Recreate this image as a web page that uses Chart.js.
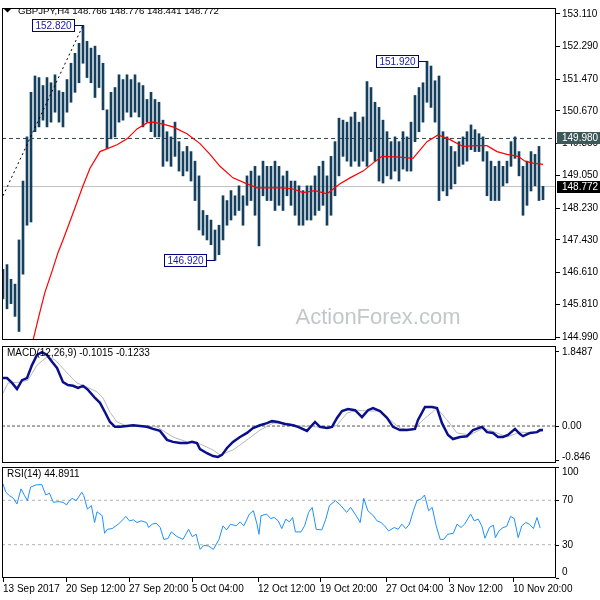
<!DOCTYPE html>
<html lang="en">
<head>
<meta charset="UTF-8">
<title>GBPJPY H4</title>
<script src="https://cdn.jsdelivr.net/npm/chart.js"></script>
<style>
  body { margin: 0; background: #fff; }
  .wrap { position: relative; width: 600px; height: 600px; overflow: hidden; background: #fff; }
  .wrap canvas { position: absolute; left: 0; }
</style>
</head>
<body>
<div class="wrap">
  <canvas id="priceChart" width="600" height="348" style="top:0"></canvas>
  <canvas id="macdChart" width="600" height="128" style="top:340px"></canvas>
  <canvas id="rsiChart" width="600" height="142" style="top:458px"></canvas>
</div>
<script>
// ---- data (bar index 0..135) ----
const barHigh = [146.69,146.81,146.44,146.32,147.43,148.91,150.02,151.14,151.55,151.51,
  151.31,151.51,151.38,151.58,151.18,151.14,151.46,151.87,152.12,152.37,
  152.82,152.42,152.25,152.30,152.07,151.87,150.70,151.14,151.26,151.58,
  151.46,151.58,151.46,151.58,151.38,151.31,150.96,151.14,150.96,150.89,
  150.44,150.15,150.02,150.39,149.90,149.65,149.78,149.65,149.41,149.04,
  148.17,148.05,147.93,147.68,147.80,148.54,148.42,148.67,148.54,148.79,
  148.54,149.04,149.16,149.28,149.04,149.41,149.28,149.28,149.41,149.28,
  149.04,149.16,148.91,148.91,148.79,148.67,148.79,148.79,149.04,149.28,
  149.41,149.04,149.53,149.90,150.49,150.44,150.39,150.52,150.64,150.39,
  150.52,151.41,151.26,150.89,150.76,150.44,150.15,149.90,150.02,149.90,
  150.15,150.02,150.39,151.06,151.26,151.38,151.92,151.80,151.43,151.55,
  150.15,150.02,149.78,149.65,149.90,150.02,150.15,150.32,150.20,150.10,
  150.02,149.65,149.41,149.28,149.41,149.28,149.41,149.90,150.02,149.65,
  149.28,149.41,149.65,149.58,149.78,148.776];
const barLow = [145.95,145.70,145.83,145.51,145.13,146.57,147.80,147.88,150.15,150.27,
  150.44,150.27,150.39,150.64,150.39,150.27,150.64,150.89,151.14,151.38,
  151.87,151.51,151.38,151.01,151.26,150.70,149.73,149.97,150.02,150.39,
  150.44,150.64,150.52,150.64,150.52,150.27,150.39,150.15,150.02,150.02,
  149.28,149.41,149.28,149.53,149.16,149.04,149.16,148.91,148.42,147.68,
  147.55,147.43,147.31,146.92,147.06,147.43,147.80,147.93,148.05,148.17,
  147.80,148.30,148.42,148.05,147.28,148.54,148.42,148.42,148.17,148.30,
  148.17,148.54,148.30,148.05,147.80,147.80,147.93,147.93,148.05,148.17,
  148.30,147.80,148.05,148.54,149.04,149.53,149.41,149.28,149.41,149.28,
  149.41,149.28,149.65,149.41,148.91,148.86,149.04,148.96,149.16,148.91,
  149.21,149.16,149.16,149.90,150.15,150.39,150.89,150.76,150.39,148.42,
  148.66,148.54,148.71,148.84,149.28,149.33,149.41,149.70,149.65,149.65,
  149.41,148.54,148.42,148.42,148.42,148.79,148.86,149.28,149.48,149.04,
  148.05,148.30,148.66,148.79,148.42,148.441];

const maAt = [7,9.25,10.5,12.25,13.75,15,17.5,20,21.75,24.25,25.5,28.5,31,33.5,36,37.5,40,42.5,46,49.25,
  51.75,54.25,57.5,61,63.5,70,72.5,75,78,81,84.25,86.75,90,92.5,94.75,99.25,102.5,106,108.75,111.75,
  115,118.5,121,123.5,126,128.75,130.5,132.5,135];
const maVal = [144.70,145.63,146.12,146.64,147.11,147.43,148.10,148.79,149.23,149.65,149.70,149.82,149.97,150.22,150.37,150.39,150.34,150.27,150.10,149.85,
  149.58,149.28,148.99,148.84,148.74,148.74,148.71,148.62,148.67,148.59,148.84,148.99,149.16,149.36,149.53,149.51,149.48,149.90,150.07,149.95,
  149.78,149.80,149.80,149.65,149.58,149.53,149.41,149.36,149.33];

const trendAt = [0, 20];
const trendVal = [148.54, 152.82];
const resistance = 149.98;
const lastPrice = 148.772;
const markAt = [20, 106, 53];
const markVal = [152.82, 151.92, 146.92];
const markText = ['152.820', '151.920', '146.920'];

const macdAt = [0,1,2.25,3.5,4.75,6,7.25,8.5,9.75,11,12.25,13.5,15,16.25,17.5,18.75,20,21.25,23,24.25,
  25.5,26.75,28,29.25,31,32.5,34.25,36,37.5,39.25,41,42.5,44.25,46,47.25,48.5,49.25,51,52.5,53.75,
  54.75,56,57.5,59.25,61,62.5,64.25,66,67.25,68.75,70.5,72.5,73.75,76,77.25,78,79.25,81,82.25,83.5,
  84.75,86.25,88,89.75,91.25,92.5,94.25,96,97.5,99.25,101,103,103.75,105.5,107.25,108.5,109.75,111.25,112.5,114.25,
  116,117.5,119.75,121,122.5,123.75,125,126.25,128,129.25,130,131.75,133.5,134.25,135];
const macdVal = [1.18,1.18,1.06,0.91,1.13,1.18,1.50,1.75,1.82,1.75,1.58,1.43,1.08,1.01,0.99,0.94,0.99,0.89,0.69,0.57,
  0.34,0.10,-0.02,-0.02,0.0,0.02,0.0,-0.02,-0.07,-0.12,-0.34,-0.39,-0.42,-0.42,-0.39,-0.42,-0.57,-0.67,-0.74,-0.76,
  -0.71,-0.54,-0.39,-0.27,-0.17,-0.05,0.02,0.07,0.12,0.10,0.05,0.02,-0.02,-0.12,0.02,0.10,-0.02,-0.05,-0.02,0.20,
  0.37,0.42,0.39,0.22,0.39,0.44,0.37,0.20,-0.02,-0.10,-0.10,-0.07,0.15,0.47,0.47,0.44,0.07,-0.22,-0.32,-0.27,
  -0.25,-0.10,-0.02,-0.15,-0.17,-0.27,-0.27,-0.22,-0.07,-0.20,-0.25,-0.17,-0.15,-0.10,-0.10];
const sigAt = [0,1.25,4.25,6.25,8.5,11,13,16,18.5,21,23.5,25,26.75,28.5,31,35,38.5,42.5,46,49.25,
  52.5,54.25,57.5,61,64.25,67.5,71,74,78.5,81.75,83.5,86,88.5,91,94.25,96.75,99.25,102.5,105,108.5,
  111,113.5,116.75,120,123.5,126,129.25,132.5,135];
const sigVal = [0.81,1.06,1.08,1.13,1.50,1.70,1.63,1.31,1.06,0.96,0.84,0.69,0.34,0.10,0,0,-0.02,-0.27,-0.39,-0.44,
  -0.59,-0.71,-0.59,-0.34,-0.10,0.07,0.07,0.0,-0.02,-0.05,0.02,0.32,0.39,0.37,0.37,0.15,-0.05,-0.10,0.15,0.44,
  0.15,-0.17,-0.22,-0.05,-0.17,-0.27,-0.15,-0.17,-0.12];

const rsiAt = [0,0.7,1.6,2.6,3.5,4.5,5.4,6.1,6.9,8.3,9.7,10.7,11.6,12.6,14,15,15.9,16.4,17.3,18.3,
  19.7,20.2,21.1,22.1,22.9,23.5,24.8,25.4,26.1,27.3,28.8,29.7,30.7,31.6,32.6,33.5,34.5,35.9,36.4,37.3,
  38.3,39.3,40.2,41.2,42.1,43.5,45,46.4,47.3,48.3,48.8,49.3,50.2,51.4,52.6,54,55,55.9,56.9,58.3,
  59.3,60.2,61.6,62.6,63.5,64,64.5,65.9,66.9,67.8,68.8,69.7,70.7,71.6,72.4,73.1,74.5,75.4,76.4,77.3,
  78.3,79.7,80.7,81.6,83.1,84.5,85.9,86.9,88.3,89.3,90.2,91.2,92.6,93.5,94.5,95.4,96.4,97.8,98.8,99.7,
  100.7,101.6,102.6,103.5,104.5,105.4,106.4,107.3,108.3,109.3,110.2,111.2,112.6,113.5,114.5,115.4,116.9,117.8,118.8,119.7,
  120.5,121.6,122.6,123.1,124,125,125.9,126.9,127.8,128.8,129.7,130.7,131.6,132.6,133.5,134.3];
const rsiVal = [84.8,77.3,74.2,71.8,66.7,80.3,74.2,69.7,81.8,83.9,84.2,74.8,76.4,68.2,68.8,68.2,65.8,68.8,71.8,69.7,
  77.3,74.2,62.1,65.2,50,59.7,56.1,40.3,43.9,44.5,48.5,51.5,55.5,51.5,52.4,50,51.5,50,45.5,48.5,
  49.4,45.5,34.8,35.5,41.5,37.3,34.8,43.9,37.3,39.4,31.8,25.8,29.4,28.8,25.8,34.8,47,43.3,48.5,47,
  50.6,47,57.6,60.6,48.5,39.4,56.1,57.6,53.6,54.5,51.5,44.5,53,50.6,54.5,41.5,41.5,47,59.1,63.6,
  43.9,43.3,53,65.2,69.7,65.2,59.1,63.6,56.1,50,71.8,60.6,56.1,51.5,50,47,42.4,45.5,43.9,48.5,
  44.5,48.5,60.6,69.7,71.2,74.8,60.6,63.6,47,34.8,34.8,39.4,40.3,48.5,45.5,48.5,57.6,51.5,53,47,
  35.8,45.5,47.6,36.4,42.4,45.5,46.4,55.5,53.6,36.4,47,50,48.5,44.5,54.5,44.9];

const priceTicks = [153.11,152.29,151.47,150.67,149.85,149.05,148.23,147.43,146.61,145.81,144.99];
const xTickAt = [0, 15.75, 31.5, 47.25, 63.75, 79.25, 95.75, 111.5, 127.5];
const xTickLabels = ['13 Sep 2017','20 Sep 12:00','27 Sep 20:00','5 Oct 04:00','12 Oct 12:00',
  '19 Oct 20:00','27 Oct 04:00','3 Nov 12:00','10 Nov 20:00'];

// ---- helpers ----
const FONT = 'Liberation Sans, Arial, sans-serif';
const pts = (xs, ys) => xs.map((x, i) => ({ x: x, y: ys[i] }));
const X_MIN = -0.25, X_MAX = 138.25;

function xAxis(show) {
    const axis = { type: 'linear', min: X_MIN, max: X_MAX, offset: false, display: show };
    if (!show) return axis;
    return Object.assign(axis, {
        afterBuildTicks: s => { s.ticks = xTickAt.map(v => ({ value: v })); },
        afterFit: s => { s.height = 22; },
        ticks: {
            autoSkip: false, maxRotation: 0, align: 'start', padding: 1, color: '#000',
            font: { family: FONT, size: 10 },
            callback: (v, i) => xTickLabels[i]
        },
        grid: { drawOnChartArea: false, tickLength: 4, color: '#000' },
        border: { display: false }
    });
}

const frame = {
    id: 'frame',
    afterDraw(chart) {
        const { ctx, chartArea: a } = chart;
        ctx.save();
        ctx.strokeStyle = '#000';
        ctx.lineWidth = 1;
        ctx.strokeRect(a.left + 0.5, a.top + 0.5, a.right - a.left - 1, a.bottom - a.top - 1);
        ctx.restore();
    }
};

// right side labels for the indicator panels
function sideLabels(list, title) {
    return {
        id: 'side',
        afterDraw(chart) {
            const { ctx, chartArea: a } = chart;
            const ys = chart.scales.y;
            ctx.save();
            ctx.font = '10px ' + FONT;
            ctx.fillStyle = '#000';
            ctx.strokeStyle = '#000';
            ctx.textBaseline = 'middle';
            list.forEach(l => {
                const y = Math.round(ys.getPixelForValue(l.v)) + 0.5;
                ctx.beginPath();
                ctx.moveTo(a.right, y);
                ctx.lineTo(a.right + 3, y);
                ctx.stroke();
                ctx.fillText(l.t, a.right + 6, y + l.dy);
            });
            ctx.fillText(title, a.left + 5, a.top + 7);
            ctx.restore();
        }
    };
}

// price panel decorations
const priceDecor = {
    id: 'priceDecor',
    beforeDatasetsDraw(chart) {
        const { ctx } = chart;
        ctx.save();
        ctx.font = '22px ' + FONT;
        ctx.fillStyle = '#c4c7ca';
        ctx.textAlign = 'center';
        ctx.textBaseline = 'alphabetic';
        ctx.fillText('ActionForex.com', 378, 324);
        ctx.restore();
    },
    afterDraw(chart) {
        const { ctx, chartArea: a, scales: { x, y } } = chart;
        ctx.save();
        // title
        ctx.fillStyle = '#000';
        ctx.beginPath();
        ctx.moveTo(4, 9); ctx.lineTo(11, 9); ctx.lineTo(7.5, 12.5); ctx.closePath(); ctx.fill();
        ctx.font = '9.6px ' + FONT;
        ctx.textBaseline = 'middle';
        ctx.fillText('GBPJPY,H4 148.766 148.776 148.441 148.772', 18, 11);

        // swing labels
        ctx.font = '10px ' + FONT;
        ctx.lineWidth = 1;
        markAt.forEach((m, k) => {
            const px = Math.round(x.getPixelForValue(m)) + 0.5;
            const py = Math.round(y.getPixelForValue(markVal[k])) + 0.5;
            const bx = px - 51, by = py - 6;
            ctx.strokeStyle = '#000080';
            ctx.beginPath();
            ctx.moveTo(bx + 42, py); ctx.lineTo(px, py);
            ctx.stroke();
            ctx.fillStyle = '#fff';
            ctx.fillRect(bx, by, 42, 12);
            ctx.strokeRect(bx, by, 42, 12);
            ctx.fillStyle = '#1a1aa6';
            ctx.textAlign = 'center';
            ctx.fillText(markText[k], bx + 21, py + 0.5);
        });

        // current level boxes on the price axis
        [[resistance, '149.980', '#3d5858'], [lastPrice, '148.772', '#000']].forEach(b => {
            const py = Math.round(y.getPixelForValue(b[0]));
            ctx.fillStyle = b[2];
            ctx.fillRect(a.right + 1, py - 6, 43, 12);
            ctx.fillStyle = '#fff';
            ctx.textAlign = 'left';
            ctx.fillText(b[1], a.right + 6, py);
        });
        ctx.restore();
    }
};

// ---- price chart ----
new Chart(document.getElementById('priceChart'), {
    type: 'bar',
    data: {
        datasets: [
            { type: 'line', data: pts(maAt, maVal), borderColor: '#ff0000', borderWidth: 1.2,
              pointRadius: 0, tension: 0, order: 1 },
            { type: 'line', data: pts(trendAt, trendVal), borderColor: '#000', borderWidth: 1,
              borderDash: [2, 3], pointRadius: 0, order: 2 },
            { type: 'bar', data: barHigh.map((h, i) => ({ x: i, y: [barLow[i], h] })),
              backgroundColor: '#14405e', borderWidth: 0, barThickness: 2, order: 3 },
            { type: 'line', data: pts([X_MIN, X_MAX], [resistance, resistance]), borderColor: '#2e4a4a',
              borderWidth: 1, borderDash: [4, 3], pointRadius: 0, order: 4 },
            { type: 'line', data: pts([X_MIN, X_MAX], [lastPrice, lastPrice]), borderColor: '#c0c0c0',
              borderWidth: 1, pointRadius: 0, order: 5 }
        ]
    },
    options: {
        responsive: false, animation: false,
        layout: { padding: { left: 2, top: 4, right: 0, bottom: 6 } },
        plugins: { legend: { display: false }, tooltip: { enabled: false } },
        scales: {
            x: xAxis(false),
            y: {
                position: 'right', min: 144.916, max: 153.258,
                afterFit: s => { s.width = 44; },
                afterBuildTicks: s => { s.ticks = priceTicks.map(v => ({ value: v })); },
                ticks: { callback: v => v.toFixed(3), color: '#000', padding: 2,
                         font: { family: FONT, size: 10 } },
                grid: { drawOnChartArea: false, tickLength: 4, color: '#000' },
                border: { display: false }
            }
        }
    },
    plugins: [priceDecor, frame]
});

// ---- MACD ----
new Chart(document.getElementById('macdChart'), {
    type: 'line',
    data: {
        datasets: [
            { data: pts(macdAt, macdVal), borderColor: '#0a0f8c', borderWidth: 2.5, pointRadius: 0, order: 1 },
            { data: pts(sigAt, sigVal), borderColor: '#b8b8b8', borderWidth: 1, pointRadius: 0, order: 2 },
            { data: pts([X_MIN, X_MAX], [0, 0]), borderColor: '#555', borderWidth: 1, borderDash: [3, 2],
              pointRadius: 0, order: 3 }
        ]
    },
    options: {
        responsive: false, animation: false,
        layout: { padding: { left: 2, top: 6, right: 44, bottom: 5 } },
        plugins: { legend: { display: false }, tooltip: { enabled: false } },
        scales: {
            x: xAxis(false),
            y: { display: false, min: -0.91, max: 1.97 }
        }
    },
    plugins: [sideLabels([{ v: 1.8487, t: '1.8487', dy: 1 }, { v: 0, t: '0.00', dy: 0 },
                          { v: -0.846, t: '-0.846', dy: -3 }], 'MACD(12,26,9) -0.1015 -0.1233'), frame]
});

// ---- RSI ----
new Chart(document.getElementById('rsiChart'), {
    type: 'line',
    data: {
        datasets: [
            { data: pts(rsiAt, rsiVal), borderColor: '#1e90ff', borderWidth: 1, pointRadius: 0, order: 1 },
            { data: pts([X_MIN, X_MAX], [70, 70]), borderColor: '#b4b4b4', borderWidth: 1, borderDash: [3, 3],
              pointRadius: 0, order: 2 },
            { data: pts([X_MIN, X_MAX], [30, 30]), borderColor: '#b4b4b4', borderWidth: 1, borderDash: [3, 3],
              pointRadius: 0, order: 3 }
        ]
    },
    options: {
        responsive: false, animation: false,
        layout: { padding: { left: 2, top: 9, right: 44, bottom: 0 } },
        plugins: { legend: { display: false }, tooltip: { enabled: false } },
        scales: {
            x: xAxis(true),
            y: { display: false, min: 0, max: 100 }
        }
    },
    plugins: [sideLabels([{ v: 100, t: '100', dy: 5 }, { v: 70, t: '70', dy: 0 },
                          { v: 30, t: '30', dy: 0 }, { v: 0, t: '0', dy: -6 }], 'RSI(14) 44.8911'), frame]
});
</script>
</body>
</html>
